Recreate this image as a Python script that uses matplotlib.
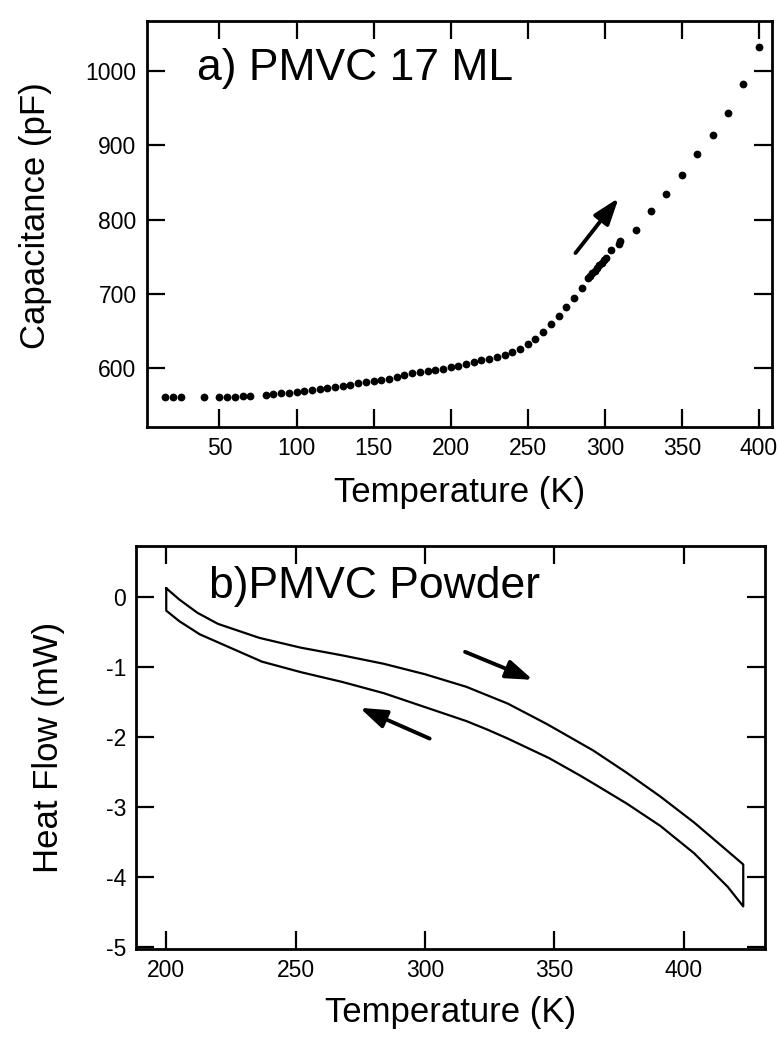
import numpy as np
import matplotlib.pyplot as plt

plt.rcParams['font.family'] = ['Liberation Sans', 'DejaVu Sans']
plt.rcParams['axes.unicode_minus'] = False

# a) capacitance of PMVC 17 ML film vs temperature
temp_cap = [15, 20, 25, 40, 50, 55, 60, 65, 70,
            80, 85, 90, 95, 100, 105, 110, 115, 120, 125, 130, 135, 140, 145,
            150, 155, 160, 165, 170, 175, 180, 185, 190, 195, 200, 205, 210,
            215, 220, 225, 230, 235, 240, 245, 250, 255, 260, 265, 270, 275,
            280, 285,
            289, 290.5, 292, 293.5, 295, 296.5, 298, 299.5, 301, 304, 309, 310,
            320, 330, 340, 350, 360, 370, 380, 390, 400]
capacitance = [561, 561, 561, 562, 562, 562, 562, 563, 563,
               564.1, 564.8, 566.2, 567.3, 568.4, 569.9, 571.0, 572.1, 573.1,
               574.2, 576.2, 577.7, 579.7, 581.5, 583.1, 584.6, 586.1, 587.7,
               590.4, 593.3, 594.4, 595.9, 597.5, 598.9, 601.3, 603.3, 605.3,
               608.7, 610.5, 613.0, 615.2, 618.2, 622.4, 626.5, 632.5, 639.3,
               648.9, 659.3, 670.7, 682.2, 695.0, 707.9,
               721, 724.5, 728, 731.5, 735, 738.5, 742, 745.5, 749, 759, 767.5,
               771.5, 785.6, 811.5, 834.1, 860.5, 887.8, 913.6, 943, 981.9,
               1031.5]

# b) DSC heat flow of PMVC powder, heating (upper) and cooling (lower) branch
temp_heat = [200, 205, 212, 220, 236, 252, 268, 284, 300, 316, 332, 347,
             365, 378, 391, 404, 417, 423]
flow_heat = [0.13, -0.03, -0.22, -0.38, -0.58, -0.72, -0.83, -0.95, -1.10,
             -1.28, -1.52, -1.81, -2.19, -2.51, -2.85, -3.22, -3.63, -3.82]
temp_cool = [200, 205, 213, 221, 237, 252, 268, 284, 300, 316, 324, 332,
             348, 360, 365, 378, 391, 404, 417, 423]
flow_cool = [-0.19, -0.34, -0.53, -0.66, -0.92, -1.07, -1.21, -1.37, -1.57,
             -1.77, -1.89, -2.02, -2.30, -2.55, -2.66, -2.95, -3.27, -3.66,
             -4.14, -4.42]

xticks_a = [50, 100, 150, 200, 250, 300, 350, 400]
yticks_a = [600, 700, 800, 900, 1000]
xticks_b = [200, 250, 300, 350, 400]
yticks_b = [0, -1, -2, -3, -4, -5]

fig = plt.figure(figsize=(7.79, 10.38), dpi=100)
ax1 = fig.add_axes([0.1887, 0.5886, 0.8023, 0.3911])
ax2 = fig.add_axes([0.1752, 0.0857, 0.8068, 0.3887])

arrow_style = dict(arrowstyle='-|>,head_length=0.8,head_width=0.28',
                   color='black', lw=2.8, mutation_scale=20,
                   shrinkA=0, shrinkB=0)

# panel a
ax1.plot(temp_cap, capacitance, 'o', color='black', markersize=5.6,
         markeredgewidth=0)
ax1.annotate('', xy=(309, 829), xytext=(281, 755), arrowprops=arrow_style)
ax1.text(0.08, 0.855, 'a) PMVC 17 ML', transform=ax1.transAxes,
         fontsize=32, va='baseline', ha='left')
ax1.set_xlim(3, 408.5)
ax1.set_ylim(521, 1067)
ax1.set_xticks(xticks_a)
ax1.set_yticks(yticks_a)
ax1.set_xlabel('Temperature (K)', fontsize=25)
ax1.set_ylabel('Capacitance (pF)', fontsize=25)
ax1.xaxis.set_label_coords(0.5, -0.121)
ax1.yaxis.set_label_coords(-0.152, 0.52)

# panel b: closed loop heating -> cooling
loop_t = temp_heat + temp_cool[::-1] + temp_heat[:1]
loop_f = flow_heat + flow_cool[::-1] + flow_heat[:1]
ax2.plot(loop_t, loop_f, color='black', lw=1.6)
ax2.annotate('', xy=(341.7, -1.18), xytext=(315.5, -0.78),
             arrowprops=arrow_style)
ax2.annotate('', xy=(274.8, -1.58), xytext=(301.8, -2.02),
             arrowprops=arrow_style)
ax2.text(0.115, 0.87, 'b)PMVC Powder', transform=ax2.transAxes,
         fontsize=32, va='baseline', ha='left')
ax2.set_xlim(188.5, 431.4)
ax2.set_ylim(-5.03, 0.74)
ax2.set_xticks(xticks_b)
ax2.set_yticks(yticks_b)
ax2.set_xlabel('Temperature (K)', fontsize=25)
ax2.set_ylabel('Heat Flow (mW)', fontsize=25)
ax2.xaxis.set_label_coords(0.5, -0.1165)
ax2.yaxis.set_label_coords(-0.114, 0.5)

for ax in (ax1, ax2):
    ax.tick_params(direction='in', length=13, width=1.6, labelsize=16.5,
                   top=True, right=True, pad=7.5)
    for sp in ax.spines.values():
        sp.set_linewidth(2.0)

fig.savefig('out.png', dpi=100)
